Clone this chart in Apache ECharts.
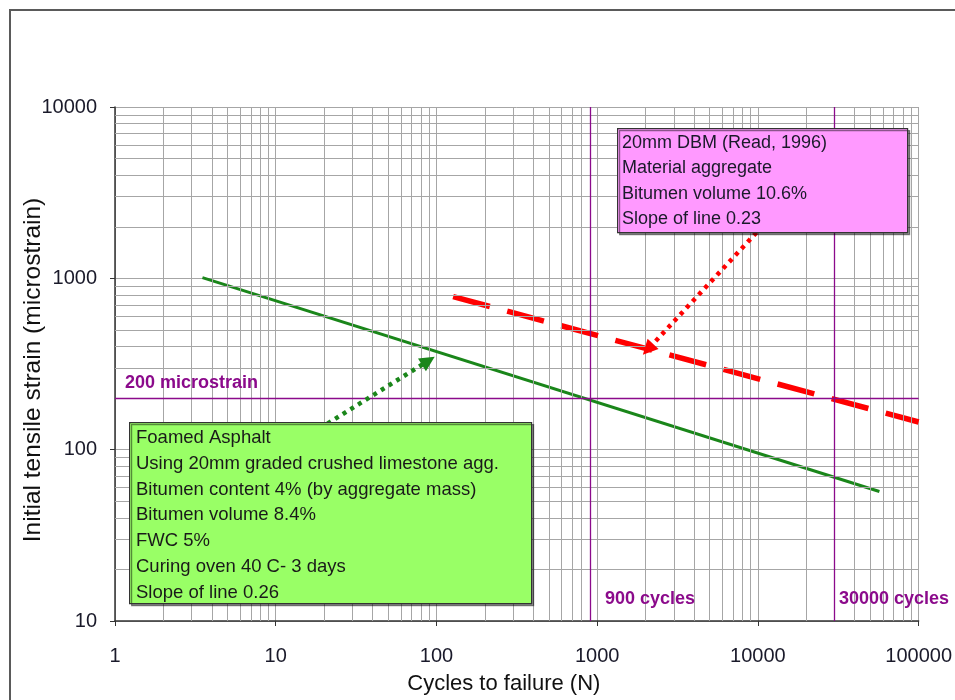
<!DOCTYPE html>
<html>
<head>
<meta charset="utf-8">
<title>Fatigue lines</title>
<script src="https://cdn.jsdelivr.net/npm/echarts@6/dist/echarts.min.js"></script>
<style>
  html, body { margin: 0; padding: 0; background: #fff; }
  #chart { width: 955px; height: 700px; }
</style>
</head>
<body>
<div id="chart"></div>
<script>
// foamed asphalt line
const foamedCycles = [3.5, 57000];
const foamedStrain = [1010, 57];

// 20mm DBM (Read, 1996)
const dbmCycles = [127, 100000];
const dbmStrain = [782, 145];

// reference lines
const refCycles = [900, 30000];
const refStrain = [200];

const xTicks = [1, 10, 100, 1000, 10000, 100000];
const yTicks = [10, 100, 1000, 10000];

// arrows from the notes to the lines: [start, end] as [cycles, strain]
const foamedArrow = [[21, 142], [89, 330]];
const dbmArrow = [[9800, 1850], [2070, 385]];

const foamedNote = [
  "Foamed Asphalt",
  "Using 20mm graded crushed limestone agg.",
  "Bitumen content 4% (by aggregate mass)",
  "Bitumen volume 8.4%",
  "FWC 5%",
  "Curing oven 40 C- 3 days",
  "Slope of line 0.26",
];
const dbmNote = [
  "20mm DBM (Read, 1996)",
  "Material aggregate",
  "Bitumen volume 10.6%",
  "Slope of line 0.23",
];

const FONT = "'Liberation Sans', Arial, sans-serif";
const PURPLE = "#8b0a8b";
const GRID = "#a6a6a6";
const GREEN = "#1a861a";

// minor grid at 2..9 of each decade
function minorLines(ticks) {
  const out = [];
  for (let i = 0; i < ticks.length - 1; i++) {
    for (let k = 2; k <= 9; k++) out.push(ticks[i] * k);
  }
  return out;
}

const chart = echarts.init(document.getElementById("chart"));

const option = {
  animation: false,
  grid: { left: 115, right: 36, top: 107, bottom: 78 },
  xAxis: {
    type: "log",
    logBase: 10,
    min: 1,
    max: 100000,
    name: "Cycles to failure (N)",
    nameLocation: "middle",
    nameGap: 52,
    nameMoveOverlap: false,
    nameTextStyle: { fontFamily: FONT, fontSize: 22, color: "#111", padding: [0, 26, 0, 0] },
    axisLine: { show: true, lineStyle: { color: "#333", width: 1.5 } },
    axisTick: { show: true, length: 5, lineStyle: { color: "#333" } },
    axisLabel: {
      fontFamily: FONT, fontSize: 20, color: "#1a1a2a", margin: 25,
      formatter: (v) => String(v),
    },
    splitLine: { show: true, lineStyle: { color: GRID, width: 1 } },
  },
  yAxis: {
    type: "log",
    logBase: 10,
    min: 10,
    max: 10000,
    name: "Initial tensile strain (microstrain)",
    nameLocation: "middle",
    nameRotate: 90,
    nameGap: 69,
    nameMoveOverlap: false,
    nameTextStyle: { fontFamily: FONT, fontSize: 24.5, color: "#111", padding: [0, 12, 0, 0] },
    axisLine: { show: true, lineStyle: { color: "#333", width: 1.5 } },
    axisTick: { show: true, length: 5, lineStyle: { color: "#333" } },
    axisLabel: {
      fontFamily: FONT, fontSize: 20, color: "#1a1a2a", margin: 18,
      formatter: (v) => String(v),
    },
    splitLine: { show: true, lineStyle: { color: GRID, width: 1 } },
  },
  series: [
    {
      name: "grid",
      type: "line",
      data: [],
      z: 1,
      markLine: {
        silent: true,
        symbol: "none",
        animation: false,
        label: { show: false },
        lineStyle: { color: GRID, width: 1, type: "solid" },
        data: minorLines(xTicks).map((v) => ({ xAxis: v }))
          .concat(minorLines(yTicks).map((v) => ({ yAxis: v }))),
      },
    },
    {
      name: "reference",
      type: "line",
      data: [],
      z: 2,
      markLine: {
        silent: true,
        symbol: "none",
        animation: false,
        label: { show: false },
        lineStyle: { color: PURPLE, width: 1.3, type: "solid" },
        data: refCycles.map((v) => ({ xAxis: v }))
          .concat(refStrain.map((v) => ({ yAxis: v }))),
      },
    },
    {
      name: "Foamed Asphalt",
      type: "line",
      z: 3,
      symbol: "none",
      data: foamedCycles.map((c, i) => [c, foamedStrain[i]]),
      lineStyle: { color: GREEN, width: 3 },
      markLine: {
        silent: true,
        animation: false,
        symbol: ["none", "triangle"],
        symbolSize: [15, 15],
        label: { show: false },
        lineStyle: { color: GREEN, width: 4.5, type: [4, 5] },
        data: [[{ coord: foamedArrow[0] }, { coord: foamedArrow[1] }]],
      },
    },
    {
      name: "20mm DBM",
      type: "line",
      z: 4,
      symbol: "none",
      data: dbmCycles.map((c, i) => [c, dbmStrain[i]]),
      lineStyle: { color: "#ff0000", width: 5.5, type: [38, 18], cap: "butt" },
      markLine: {
        silent: true,
        animation: false,
        symbol: ["none", "triangle"],
        symbolSize: [15, 15],
        label: { show: false },
        lineStyle: { color: "#ff0000", width: 4.5, type: [4, 5] },
        data: [[{ coord: dbmArrow[0] }, { coord: dbmArrow[1] }]],
      },
    },
  ],
  graphic: [
    // outer frame
    {
      type: "rect",
      shape: { x: 10, y: 10, width: 980, height: 720 },
      style: { fill: "none", stroke: "#5a5a5a", lineWidth: 2 },
      silent: true,
    },
    // line labels
    {
      type: "text", left: 125, top: 374, zlevel: 1, z: 100,
      style: { text: "200 microstrain", fill: PURPLE, font: "bold 18px " + FONT },
    },
    {
      type: "text", left: 605, top: 590, zlevel: 1, z: 100,
      style: { text: "900 cycles", fill: PURPLE, font: "bold 18px " + FONT },
    },
    {
      type: "text", left: 839, top: 590, zlevel: 1, z: 100,
      style: { text: "30000 cycles", fill: PURPLE, font: "bold 18px " + FONT },
    },
    // foamed asphalt note
    {
      type: "rect", left: 129, top: 422, zlevel: 1, z: 100,
      shape: { width: 402, height: 181 },
      style: {
        fill: "#99ff66", stroke: "#333", lineWidth: 1.2,
        shadowColor: "rgba(0,0,0,0.45)", shadowOffsetX: 2, shadowOffsetY: 2,
      },
    },
    {
      type: "text", left: 136, top: 425, zlevel: 1, z: 101,
      style: {
        text: foamedNote.join("\n"), fill: "#1a1a1a",
        font: "18.5px " + FONT, lineHeight: 25.8,
      },
    },
    // DBM note
    {
      type: "rect", left: 617, top: 128, zlevel: 1, z: 100,
      shape: { width: 290, height: 104 },
      style: {
        fill: "#ff99ff", stroke: "#333", lineWidth: 1.2,
        shadowColor: "rgba(0,0,0,0.45)", shadowOffsetX: 2, shadowOffsetY: 2,
      },
    },
    {
      type: "text", left: 622, top: 130, zlevel: 1, z: 101,
      style: {
        text: dbmNote.join("\n"), fill: "#1a1a2a",
        font: "18px " + FONT, lineHeight: 25.5,
      },
    },
  ],
};

chart.setOption(option);
window.addEventListener("resize", () => chart.resize());
</script>
</body>
</html>
